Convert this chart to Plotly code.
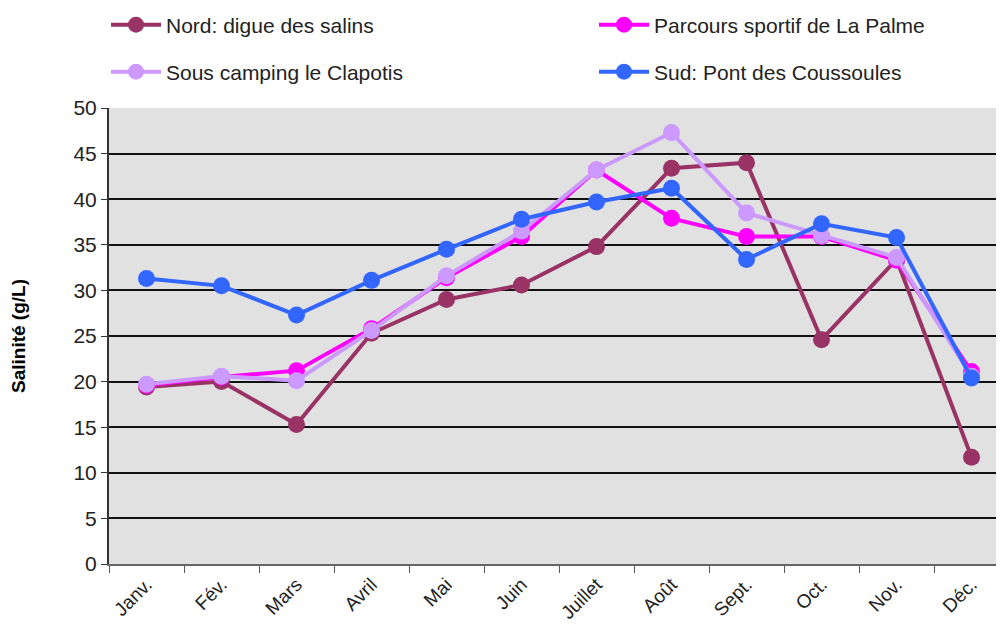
import plotly.graph_objects as go

months = ["Janv.", "Fév.", "Mars", "Avril", "Mai", "Juin", "Juillet", "Août", "Sept.", "Oct.", "Nov.", "Déc."]
nord = [19.4, 20.0, 15.3, 25.3, 29.0, 30.6, 34.8, 43.4, 44.0, 24.6, 33.4, 11.7]
parcours = [19.6, 20.5, 21.2, 25.8, 31.4, 35.9, 43.2, 37.9, 35.9, 35.9, 33.3, 21.1]
clapotis = [19.7, 20.6, 20.1, 25.6, 31.6, 36.5, 43.2, 47.3, 38.5, 36.0, 33.6, 20.6]
sud = [31.3, 30.5, 27.3, 31.1, 34.5, 37.8, 39.7, 41.2, 33.4, 37.3, 35.8, 20.4]

# page body has an 8px margin, so figure coordinates are offset by 8px
OFF = 8
# name, values, colour, legend id, legend x (page px), legend y (page px)
series = [
    ("Nord: digue des salins", nord, "#993366", "legend", 106, 25),
    ("Parcours sportif de La Palme", parcours, "#FF00FF", "legend2", 594, 25),
    ("Sous camping le Clapotis", clapotis, "#CC99FF", "legend3", 106, 72),
    ("Sud: Pont des Coussoules", sud, "#3366FF", "legend4", 594, 72),
]

FONT = "Liberation Sans Narrow, Arial Narrow, Liberation Sans, sans-serif"
W, H = 1004 - OFF, 641 - 2 * OFF

fig = go.Figure()
legends = {}
for name, vals, col, lg, lx, ly in series:
    fig.add_trace(go.Scatter(
        x=months, y=vals, name=name, mode="lines+markers",
        line=dict(color=col, width=4),
        marker=dict(color=col, size=17),
        legend=lg,
    ))
    legends[lg] = dict(
        x=(lx - OFF) / W, y=1 - (ly - OFF) / H, xref="container", yref="container",
        xanchor="left", yanchor="middle", orientation="h",
        font=dict(family=FONT, size=21, color="#222"),
        bgcolor="rgba(0,0,0,0)", itemwidth=50,
    )

fig.update_layout(
    width=W, height=H,
    margin=dict(l=109 - OFF, r=0, t=108 - OFF, b=H - (564 - OFF), autoexpand=False),
    paper_bgcolor="white",
    plot_bgcolor="#E1E1E1",
    showlegend=True,
    **legends,
    xaxis=dict(
        type="category", range=[-0.5, 11.433],
        tickson="boundaries", ticks="outside", ticklen=7, tickcolor="#555",
        tickangle=-45, tickfont=dict(family=FONT, size=19, color="#222"),
        showgrid=False, showline=True, linecolor="#666", linewidth=2,
    ),
    yaxis=dict(
        range=[0, 50], dtick=5, ticks="outside", ticklen=6, tickcolor="#333",
        tickfont=dict(family=FONT, size=21, color="#222"),
        showgrid=True, gridcolor="#111", gridwidth=1.5,
        zeroline=False, showline=True, linecolor="#333", linewidth=2,
        title=dict(text="<b>Salinité (g/L)</b>", font=dict(family="Liberation Sans, Arial, sans-serif", size=19, color="#000"), standoff=46),
    ),
)

fig.write_html("out.html")
